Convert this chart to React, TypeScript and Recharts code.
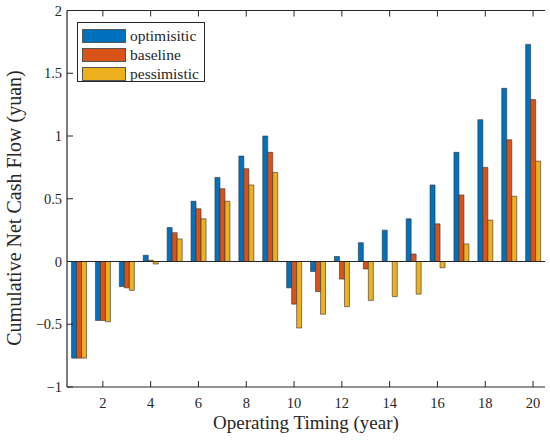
import React from "react";
import { BarChart, Bar, XAxis, YAxis, ReferenceLine } from "recharts";

const years = [1, 2, 3, 4, 5, 6, 7, 8, 9, 10, 11, 12, 13, 14, 15, 16, 17, 18, 19, 20];
const optimistic = [-0.77, -0.47, -0.2, 0.05, 0.27, 0.48, 0.67, 0.84, 1.0, -0.21, -0.08, 0.04, 0.15, 0.25, 0.34, 0.61, 0.87, 1.13, 1.38, 1.73];
const baseline = [-0.77, -0.47, -0.21, 0.01, 0.23, 0.42, 0.58, 0.74, 0.87, -0.34, -0.24, -0.14, -0.06, 0.0, 0.06, 0.3, 0.53, 0.75, 0.97, 1.29];
const pessimistic = [-0.77, -0.48, -0.23, -0.02, 0.18, 0.34, 0.48, 0.61, 0.71, -0.53, -0.42, -0.36, -0.31, -0.28, -0.26, -0.05, 0.14, 0.33, 0.52, 0.8];
const yTicks = [-1, -0.5, 0, 0.5, 1, 1.5, 2];

const FONT = '"Liberation Serif", "Times New Roman", serif';
const INK = "#262626";
const series = [
  { key: "optimistic", name: "optimisitic", color: "#0072BD" },
  { key: "baseline", name: "baseline", color: "#D95319" },
  { key: "pessimistic", name: "pessimistic", color: "#EDB120" },
];

const data = years.map((y, i) => ({
  year: y,
  optimistic: optimistic[i],
  baseline: baseline[i],
  pessimistic: pessimistic[i],
}));

const fmt = (v: number) => (v < 0 ? "\u2212" + Math.abs(v) : String(v));

// MATLAB-style ticks pointing into the plot box
const BottomTick = (p: any) => {
  if (p.payload.value % 2) return null;
  return (
    <g>
      <line x1={p.x} x2={p.x} y1={p.y} y2={p.y - 6} stroke={INK} />
      <text x={p.x} y={p.y + 21} textAnchor="middle" fontSize={14.5} fontFamily={FONT} fill={INK}>
        {p.payload.value}
      </text>
    </g>
  );
};
const TopTick = (p: any) => {
  if (p.payload.value % 2) return null;
  return <line x1={p.x} x2={p.x} y1={p.y} y2={p.y + 6} stroke={INK} />;
};
const LeftTick = (p: any) => (
  <g>
    <line x1={p.x} x2={p.x + 6} y1={p.y} y2={p.y} stroke={INK} />
    <text x={p.x - 5} y={p.y + 5} textAnchor="end" fontSize={14.5} fontFamily={FONT} fill={INK}>
      {fmt(p.payload.value)}
    </text>
  </g>
);
const RightTick = (p: any) => <line x1={p.x} x2={p.x - 6} y1={p.y} y2={p.y} stroke={INK} />;

const LegendBox = () => (
  <div
    style={{
      position: "absolute",
      left: 77,
      top: 22,
      boxSizing: "border-box",
      width: 128,
      height: 60,
      border: `1.3px solid ${INK}`,
      background: "#fff",
      padding: "3px 4px 0 4px",
      fontFamily: FONT,
      fontSize: 15.5,
      color: INK,
    }}
  >
    {series.map((s) => (
      <div key={s.key} style={{ display: "flex", alignItems: "center", height: 19 }}>
        <span
          style={{
            display: "inline-block",
            boxSizing: "border-box",
            width: 44,
            height: 14,
            background: s.color,
            border: "1px solid #555",
            marginRight: 4,
          }}
        />
        <span>{s.name}</span>
      </div>
    ))}
  </div>
);

export default function App() {
  return (
    <div style={{ position: "absolute", left: 0, top: 0, width: 550, height: 442, background: "#fff" }}>
      <BarChart
        width={550}
        height={442}
        data={data}
        margin={{ top: 9.5, right: 5, left: 0, bottom: 0 }}
        barCategoryGap="19%"
        barGap={0}
      >
        <XAxis
          dataKey="year"
          height={55}
          interval={0}
          tickSize={0}
          tickMargin={0}
          tickLine={false}
          tick={<BottomTick />}
          stroke={INK}
          strokeWidth={1.2}
          label={{
            content: () => (
              <text x={306} y={429} textAnchor="middle" fontSize={19} fontFamily={FONT} fill={INK}>
                Operating Timing (year)
              </text>
            ),
          }}
        />
        <XAxis
          xAxisId="top"
          dataKey="year"
          orientation="top"
          height={1}
          interval={0}
          tickSize={0}
          tickMargin={0}
          tickLine={false}
          tick={<TopTick />}
          stroke={INK}
          strokeWidth={1.2}
        />
        <YAxis
          width={67}
          domain={[-1, 2]}
          ticks={yTicks}
          interval={0}
          tickSize={0}
          tickMargin={0}
          tickLine={false}
          tick={<LeftTick />}
          stroke={INK}
          strokeWidth={1.2}
          allowDataOverflow
          label={{
            content: () => (
              <text
                x={21}
                y={208}
                transform="rotate(-90 21 208)"
                textAnchor="middle"
                fontSize={20}
                fontFamily={FONT}
                fill={INK}
              >
                Cumulative Net Cash Flow (yuan)
              </text>
            ),
          }}
        />
        <YAxis
          yAxisId="r"
          orientation="right"
          width={0}
          domain={[-1, 2]}
          ticks={yTicks}
          interval={0}
          tickSize={0}
          tickMargin={0}
          tickLine={false}
          tick={<RightTick />}
          stroke={INK}
          strokeWidth={1.2}
        />
        <ReferenceLine y={0} stroke={INK} strokeWidth={1.2} />
        {series.map((s) => (
          <Bar
            key={s.key}
            dataKey={s.key}
            name={s.name}
            fill={s.color}
            stroke="#333"
            strokeWidth={0.6}
            isAnimationActive={false}
          />
        ))}
      </BarChart>
      <LegendBox />
    </div>
  );
}
